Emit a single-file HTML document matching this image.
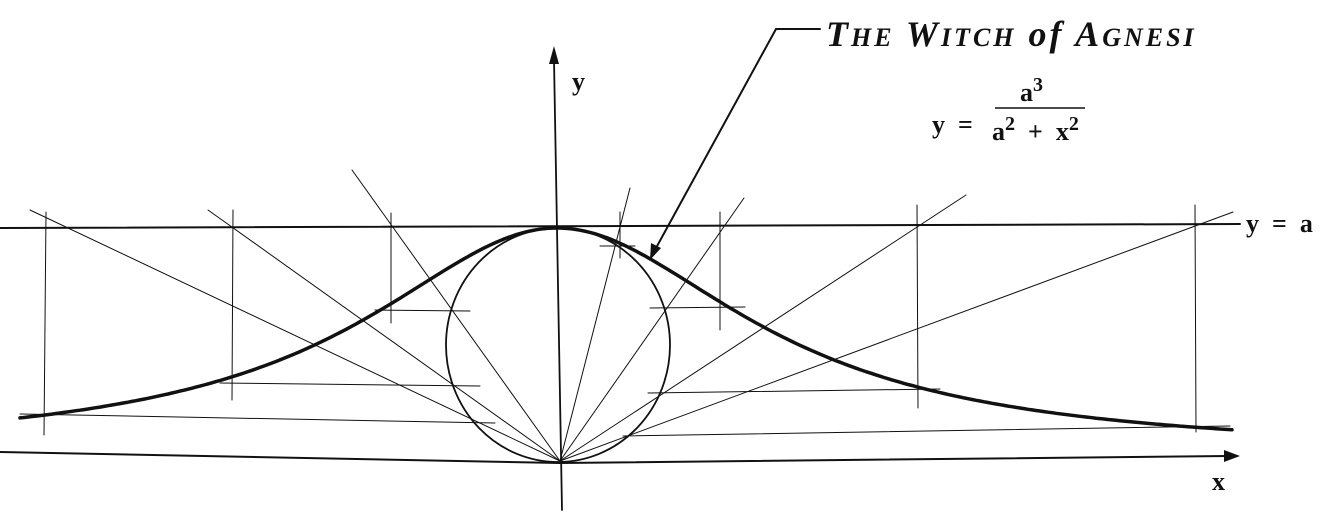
<!DOCTYPE html>
<html><head><meta charset="utf-8"><style>
html,body{margin:0;padding:0;background:#fff;}
svg{display:block}
.t{font-family:"Liberation Serif",serif;font-weight:bold;fill:#111}
</style></head><body>
<svg id="s" width="1334" height="514" viewBox="0 0 1334 514" xmlns="http://www.w3.org/2000/svg">
<g stroke="#111" fill="none" stroke-linecap="round">
<g stroke-width="1">
<line x1="560" y1="461" x2="30" y2="210"/>
<line x1="560" y1="461" x2="208" y2="210"/>
<line x1="560" y1="461" x2="352" y2="170"/>
<line x1="560" y1="461" x2="630" y2="188"/>
<line x1="560" y1="461" x2="744" y2="198"/>
<line x1="560" y1="461" x2="966" y2="195"/>
<line x1="560" y1="461" x2="1233" y2="212"/>
<line x1="46" y1="212" x2="44" y2="435"/>
<line x1="233" y1="210" x2="232" y2="400"/>
<line x1="391" y1="213" x2="391" y2="323"/>
<line x1="620" y1="212" x2="620" y2="258"/>
<line x1="720" y1="212" x2="720" y2="330"/>
<line x1="917" y1="205" x2="918" y2="408"/>
<line x1="1195" y1="205" x2="1196" y2="432"/>
<line x1="375" y1="310" x2="470" y2="311"/>
<line x1="220" y1="383" x2="480" y2="386"/>
<line x1="20" y1="414" x2="495" y2="423"/>
<line x1="600" y1="246" x2="635" y2="246"/>
<line x1="650" y1="308" x2="745" y2="307"/>
<line x1="648" y1="393" x2="940" y2="389"/>
<line x1="623" y1="436" x2="1230" y2="426"/>
</g>
<line x1="0" y1="228" x2="1240" y2="224" stroke-width="2"/>
<ellipse cx="558" cy="345" rx="112" ry="117" stroke-width="1.8"/>
<polyline points="0,452 560,463 1228,456" stroke-width="2"/>
<polygon points="1240,456 1224,450 1224,462" fill="#111" stroke="none"/>
<line x1="554" y1="60" x2="562" y2="510" stroke-width="1.8"/>
<polygon points="554,46 549,64 559,64" fill="#111" stroke="none"/>
<path id="w" stroke-width="3.5" d=""/>
<polyline points="820,29 776,29 656,248" stroke-width="2"/>
<polygon points="650,260 651,243 661,248" fill="#111" stroke="none"/>
</g>
<text class="t" x="572" y="90" font-size="26">y</text>
<text class="t" x="826" y="46" font-size="36" font-style="italic" letter-spacing="3">T<tspan font-size="26">HE</tspan> W<tspan font-size="26">ITCH</tspan> of A<tspan font-size="26">GNESI</tspan></text>
<text class="t" x="932" y="133" font-size="26">y&#160;&#160;=</text>
<line x1="995" y1="108" x2="1085" y2="108" stroke="#111" stroke-width="1.5"/>
<text class="t" x="1020" y="101" font-size="26">a<tspan font-size="20" dy="-10">3</tspan></text>
<text class="t" x="992" y="140" font-size="26">a<tspan font-size="20" dy="-10">2</tspan><tspan dy="10"> &#160;+ &#160;x</tspan><tspan font-size="20" dy="-10">2</tspan></text>
<text class="t" x="1246" y="232" font-size="26">y&#160;&#160;=&#160;&#160;a</text>
<text class="t" x="1212" y="490" font-size="26">x</text>
<script>
var d="",a=234;
for(var x=20;x<=1232;x+=4){var dx=x-557,h=a*a*a/(a*a+dx*dx);var y=454-h*226/234;d+=(x==20?"M":"L")+x+","+y.toFixed(1);}
document.getElementById("w").setAttribute("d",d);
</script>
</svg>
</body></html>
